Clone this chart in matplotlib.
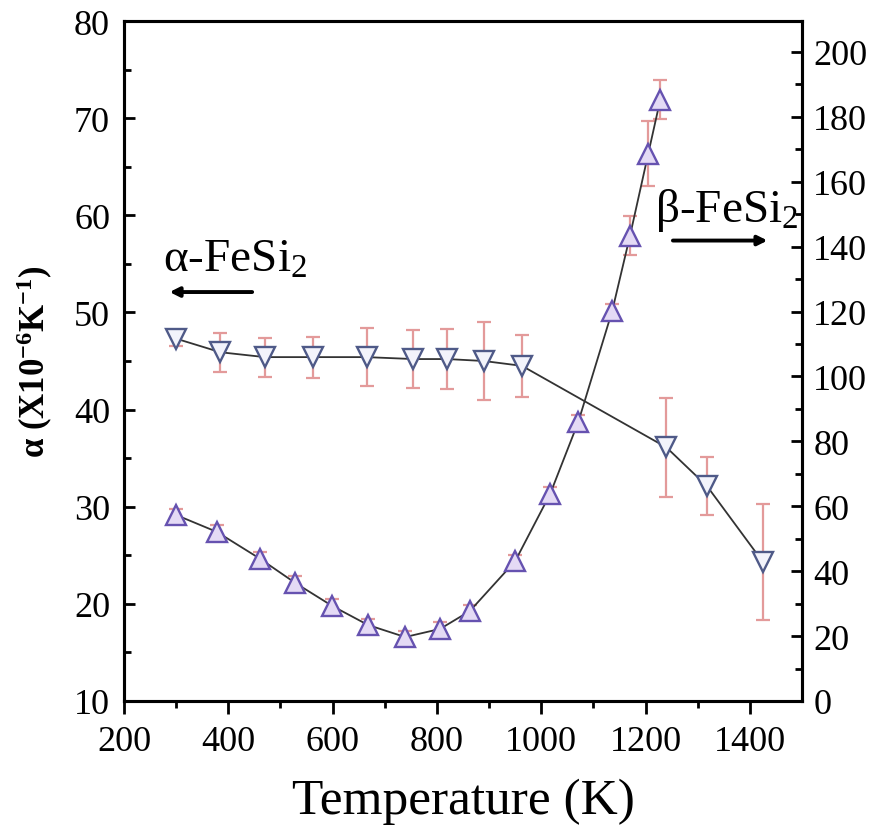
import matplotlib.pyplot as plt

plt.rcParams["font.family"] = ["Liberation Serif", "DejaVu Serif"]
plt.rcParams["mathtext.fontset"] = "custom"
plt.rcParams["mathtext.rm"] = "Liberation Serif"
plt.rcParams["mathtext.it"] = "Liberation Serif:italic"
plt.rcParams["mathtext.bf"] = "Liberation Serif:bold"

# alpha-FeSi2 (down triangles, left axis)
temp_alpha = [300, 385, 470, 563, 665, 755, 820, 890, 963, 1240, 1318, 1425]
cte_alpha = [47.3, 45.9, 45.4, 45.4, 45.4, 45.2, 45.2, 45.0, 44.5, 36.1, 32.1, 24.3]
err_alpha = [0.8, 2.0, 2.0, 2.1, 3.0, 3.0, 3.1, 4.0, 3.2, 5.1, 3.0, 6.0]

# beta-FeSi2 (up triangles, right axis)
temp_beta = [300, 378, 461, 528, 599, 668, 739, 806, 863, 950, 1017, 1071,
             1136, 1170, 1205, 1228]
cte_beta = [57.3, 52.1, 43.8, 36.4, 29.3, 23.4, 19.7, 22.2, 27.7, 43.1, 63.8,
            86.0, 120.2, 143.3, 168.6, 185.2]
err_beta = [2, 2, 2, 2, 2, 2, 2, 2, 2, 2, 2, 2, 2, 6, 10, 6]

err_color = "#e39a9a"

fig = plt.figure(figsize=(8.75, 8.28), dpi=100)
ax = fig.add_axes([0.1417, 0.1522, 0.775, 0.8212])
ax2 = ax.twinx()

ax.errorbar(temp_alpha, cte_alpha, yerr=err_alpha, fmt="none",
            ecolor=err_color, elinewidth=1.6, capsize=5, capthick=1.6, zorder=2)
ax.plot(temp_alpha, cte_alpha, color="#333333", lw=1.3, zorder=3,
        marker="v", markersize=15, markerfacecolor="#f2f3fb",
        markeredgecolor="#4f5a88", markeredgewidth=1.7)

ax2.errorbar(temp_beta, cte_beta, yerr=err_beta, fmt="none",
             ecolor=err_color, elinewidth=1.6, capsize=5, capthick=1.6, zorder=2)
ax2.plot(temp_beta, cte_beta, color="#333333", lw=1.3, zorder=3,
         marker="^", markersize=15, markerfacecolor="#e4daf5",
         markeredgecolor="#6652b0", markeredgewidth=1.7)

ax.set_xlim(200, 1500)
ax.set_ylim(10, 80)
ax2.set_ylim(0, 209.5)

ax.set_xticks([200, 400, 600, 800, 1000, 1200, 1400])
ax.set_xticks([300, 500, 700, 900, 1100, 1300], minor=True)
ax.set_yticks([10, 20, 30, 40, 50, 60, 70, 80])
ax.set_yticks([15, 25, 35, 45, 55, 65, 75], minor=True)
ax2.set_yticks([0, 20, 40, 60, 80, 100, 120, 140, 160, 180, 200])
ax2.set_yticks([10, 30, 50, 70, 90, 110, 130, 150, 170, 190], minor=True)

ax.tick_params(axis="x", which="major", direction="out", length=9, width=2,
               labelsize=26, pad=8)
ax.tick_params(axis="x", which="minor", direction="out", length=5, width=2)
ax.tick_params(axis="y", which="major", direction="in", length=8, width=2,
               labelsize=26, pad=10)
ax.tick_params(axis="y", which="minor", direction="in", length=5, width=2)
ax2.tick_params(axis="y", which="major", direction="in", length=8, width=2,
                labelsize=26, pad=8)
ax2.tick_params(axis="y", which="minor", direction="in", length=5, width=2)

for a in (ax, ax2):
    for s in a.spines.values():
        s.set_linewidth(2.2)

ax.set_xlabel("Temperature (K)", fontsize=37, labelpad=14)
ax.set_ylabel(r"α (X10$^{\mathbf{-6}}$K$^{\mathbf{-1}}$)", fontsize=25,
              fontweight="bold", labelpad=14)

ax.text(275, 54.3, r"α-FeSi$_2$", fontsize=34, ha="left", va="baseline")
ax.annotate("", xy=(282, 52.1), xytext=(451, 52.1),
            arrowprops=dict(arrowstyle="-|>", lw=2.8, color="black",
                            mutation_scale=14))
ax.text(1218, 59.4, r"β-FeSi$_2$", fontsize=34, ha="left", va="baseline")
ax.annotate("", xy=(1439, 57.4), xytext=(1247, 57.4),
            arrowprops=dict(arrowstyle="-|>", lw=2.8, color="black",
                            mutation_scale=14))

fig.savefig("out.png", dpi=100)
